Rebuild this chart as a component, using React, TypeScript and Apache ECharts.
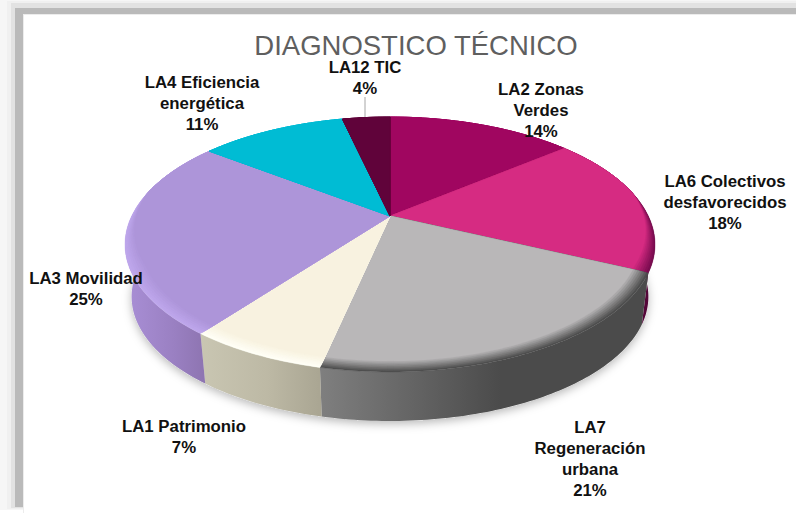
import React, { useEffect, useRef } from "react";
import * as echarts from "echarts";

const titleText = "DIAGNOSTICO TÉCNICO";
const categories = ["LA2 Zonas\nVerdes", "LA6 Colectivos\ndesfavorecidos", "LA7\nRegeneración\nurbana", "LA1 Patrimonio", "LA3 Movilidad", "LA4 Eficiencia\nenergética", "LA12 TIC"];
const values = [14, 18, 21.4, 6.9, 25.1, 11, 3.6];

const topColors = ["#A00660", "#D62B82", "#B9B7B8", "#F8F2E0", "#AD95D9", "#00BCD4", "#60033A"];
const rimColors = ["#A00660", "#7A0C50", "#4E4E4E", "#FFFFF6", "#BEA6EC", "#00BCD4", "#60033A"];
const wallFrom = ["#70044A", "#7C0C58", "#7F7F7F", "#C9C6B2", "#A98FD6", "#008CA0", "#40022A"];
const wallMid = ["#70044A", "#640844", "#4B4B4B", "#BDB9A5", "#9A80C2", "#008CA0", "#40022A"];
const wallTo = ["#70044A", "#500636", "#4B4B4B", "#A9A592", "#8A71AC", "#008CA0", "#40022A"];
const labelAnchors: [number, number][] = [[541, 89], [725, 181], [590, 427], [184, 426], [86, 278], [202, 82], [365, 67]];

// Perspective view of the pie disc
const apexX = 390, apexY = 216, R = 258.3, A = 121.1, C = -0.2235;
const ellipseCy = 244.5, wallScale = 0.975, wallDrop = 52.2;
const total = values.reduce((s, v) => s + v, 0);

function project(theta: number, r: number): [number, number] {
  const u = Math.sin(theta) * r, v = -Math.cos(theta) * r, d = 1 + C * v;
  return [apexX + (R * u) / d, apexY + (A * v) / d];
}
function lower(p: [number, number]): [number, number] {
  return [apexX + (p[0] - apexX) * wallScale, ellipseCy + (p[1] - ellipseCy) * wallScale + wallDrop];
}
function range(i: number): [number, number] {
  let s = 0;
  for (let k = 0; k < i; k++) s += values[k];
  return [(s / total) * Math.PI * 2, ((s + values[i]) / total) * Math.PI * 2];
}
function arcAngles(a: number, b: number): number[] {
  const n = Math.max(4, Math.ceil(((b - a) * 180) / Math.PI));
  const out: number[] = [];
  for (let k = 0; k <= n; k++) out.push(a + ((b - a) * k) / n);
  return out;
}
function mix(c1: string, c2: string, t: number): string {
  const p = (c: string, o: number) => parseInt(c.slice(o, o + 2), 16);
  const ch = (o: number) => Math.round(p(c1, o) * (1 - t) + p(c2, o) * t).toString(16).padStart(2, "0");
  return "#" + ch(1) + ch(3) + ch(5);
}
function insetAt(theta: number): number {
  const v = -Math.cos(theta);
  return 0.055 * Math.min(1, Math.max(0, (v + 0.2) / 0.6));
}

const renderShadow = () => {
  const pts = arcAngles(0, Math.PI * 2).map((t) => lower(project(t, 1)));
  return {
    type: "polygon",
    shape: { points: pts },
    style: { fill: "#e4e4e4", shadowBlur: 10, shadowColor: "rgba(0,0,0,0.28)", shadowOffsetY: 3 },
  };
};

const renderWall = (params: any) => {
  const i = params.dataIndex;
  const [a, b] = range(i);
  const angles = arcAngles(a, b);
  const up = angles.map((t) => project(t, 1));
  const down = angles.map((t) => lower(project(t, 1))).reverse();
  const fill = new echarts.graphic.LinearGradient(0, 0, 1, 0, [
    { offset: 0, color: wallFrom[i] },
    { offset: 0.55, color: wallMid[i] },
    { offset: 1, color: wallTo[i] },
  ]);
  return { type: "polygon", shape: { points: up.concat(down) }, style: { fill } };
};

const renderTop = (params: any) => {
  const i = params.dataIndex;
  const [a, b] = range(i);
  const angles = arcAngles(a, b);
  const children: any[] = [];
  const steps = 7;
  for (let k = 0; k <= steps; k++) {
    const f = k / steps;
    const pts = angles.map((t) => project(t, 1 - insetAt(t) * f));
    const color = mix(rimColors[i], topColors[i], f);
    children.push({
      type: "polygon",
      shape: { points: [[apexX, apexY] as [number, number]].concat(pts) },
      style: { fill: color, stroke: color, lineWidth: 0.4 },
    });
  }
  const pct = Math.round((values[i] / total) * 100) + "%";
  const lines = categories[i].split("\n").concat(pct);
  lines.forEach((line, n) => {
    children.push({
      type: "text",
      z2: 20,
      style: {
        x: labelAnchors[i][0],
        y: labelAnchors[i][1] + n * 21,
        text: line,
        fill: "#111111",
        font: "bold 16.8px 'Liberation Sans', Arial, sans-serif",
        textAlign: "center",
        textVerticalAlign: "middle",
      },
    });
  });
  return { type: "group", children };
};

const frameBands = [
  { x: 0, y: 0, w: 796, h: 510, c: "#f6f6f6" },
  { x: 7, y: 1, w: 789, h: 508, c: "#f0f0f0" },
  { x: 11, y: 3, w: 785, h: 505, c: "#e2e2e2" },
  { x: 15, y: 8, w: 781, h: 499, c: "#bababa" },
  { x: 23, y: 14, w: 773, h: 499, c: "#ececec" },
  { x: 24, y: 15, w: 772, h: 498, c: "#ffffff" },
];

export default function App() {
  const ref = useRef<HTMLDivElement>(null);
  useEffect(() => {
    const chart = echarts.init(ref.current!, undefined, { renderer: "svg" });
    chart.setOption({
      animation: false,
      backgroundColor: "#ffffff",
      title: {
        text: titleText,
        left: 411,
        top: 26,
        textAlign: "center",
        textStyle: { color: "#5f5f5f", fontSize: 27.5, fontWeight: "normal", fontFamily: "'Liberation Sans', Arial, sans-serif" },
      },
      graphic: frameBands
        .map((b) => ({ type: "rect", z: -10, silent: true, shape: { x: b.x, y: b.y, width: b.w, height: b.h }, style: { fill: b.c } }))
        .concat([
          {
            type: "line",
            z: 50,
            silent: true,
            shape: { x1: 365, y1: 97, x2: 365, y2: 117 },
            style: { stroke: "#a6a6a6", lineWidth: 1 },
          } as any,
        ]),
      series: [
        { type: "custom", coordinateSystem: "none", silent: true, z: 1, data: [1], renderItem: renderShadow },
        { type: "custom", coordinateSystem: "none", silent: true, z: 2, data: values, renderItem: renderWall },
        { type: "custom", coordinateSystem: "none", silent: true, z: 3, data: values, renderItem: renderTop },
      ],
    });
    return () => chart.dispose();
  }, []);
  return <div ref={ref} style={{ position: "fixed", left: 0, top: 0, width: 796, height: 513 }} />;
}
